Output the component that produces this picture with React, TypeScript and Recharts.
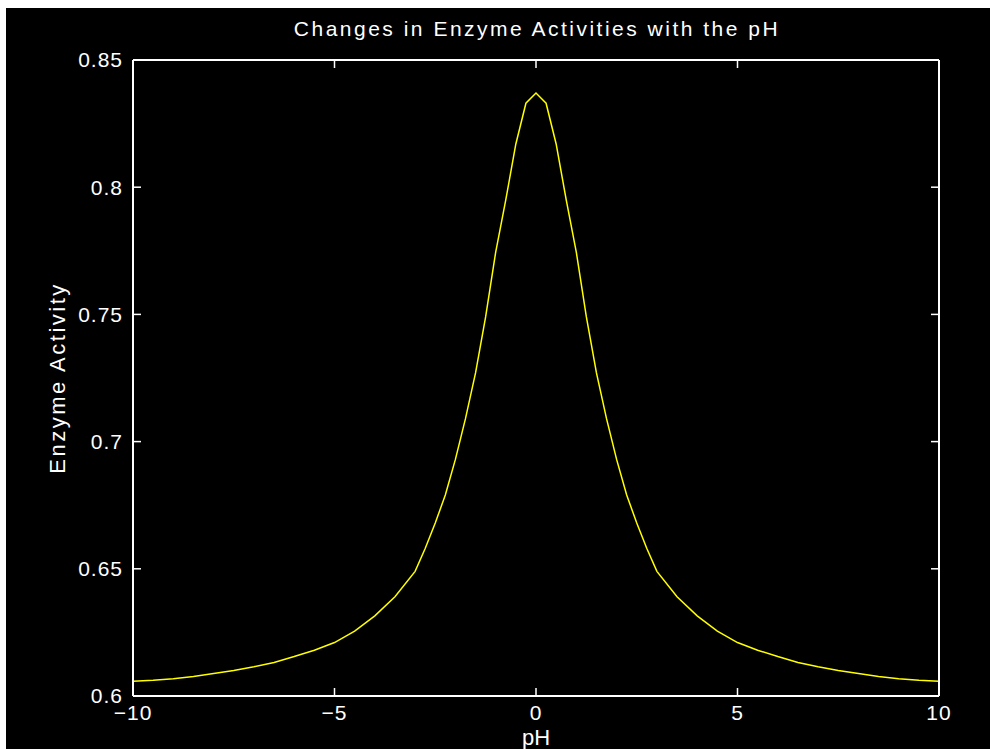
import { LineChart, Line, XAxis, YAxis } from "recharts";

// pH sample points and enzyme activity
const phValues = [
  -10, -9.5, -9, -8.5, -8, -7.5, -7, -6.5, -6, -5.5, -5, -4.5, -4, -3.5, -3,
  -2.75, -2.5, -2.25, -2, -1.75, -1.5, -1.25, -1, -0.75, -0.5, -0.25, 0, 0.25,
  0.5, 0.75, 1, 1.25, 1.5, 1.75, 2, 2.25, 2.5, 2.75, 3, 3.5, 4, 4.5, 5, 5.5, 6,
  6.5, 7, 7.5, 8, 8.5, 9, 9.5, 10,
];
const activityValues = [
  0.6058, 0.6062, 0.6068, 0.6077, 0.6088, 0.61, 0.6115, 0.6132, 0.6155, 0.618,
  0.621, 0.6255, 0.6315, 0.639, 0.649, 0.658, 0.668, 0.679, 0.693, 0.709, 0.727,
  0.749, 0.7745, 0.795, 0.817, 0.833, 0.837, 0.833, 0.817, 0.795, 0.7745,
  0.749, 0.727, 0.709, 0.693, 0.679, 0.668, 0.658, 0.649, 0.639, 0.6315, 0.6255,
  0.621, 0.618, 0.6155, 0.6132, 0.6115, 0.61, 0.6088, 0.6077, 0.6068, 0.6062,
  0.6058,
];
const xTicks = [-10, -5, 0, 5, 10];
const yTicks = [0.6, 0.65, 0.7, 0.75, 0.8, 0.85];

const data = phValues.map((ph, i) => ({ ph, activity: activityValues[i] }));

const FONT = '"Liberation Sans", Arial, sans-serif';
const tickStyle = { fill: "#fff", fontSize: 21, letterSpacing: 1 };
const noLabel = () => <g />;
const boxLine = { stroke: "#fff", strokeWidth: 2 };
const tickLine = { stroke: "#fff", strokeWidth: 1.5 };

export default function App() {
  return (
    <div
      style={{
        position: "absolute",
        left: 0,
        top: 0,
        width: 997,
        height: 749,
        background: "#fff",
        overflow: "hidden",
        fontFamily: FONT,
      }}
    >
      <div
        style={{
          position: "absolute",
          left: 6,
          top: 8,
          width: 984,
          height: 741,
          background: "#000",
        }}
      >
        {/* Title */}
        <div
          style={{
            position: "absolute",
            left: 0,
            width: 1062,
            top: 9,
            textAlign: "center",
            color: "#fff",
            fontSize: 21,
            letterSpacing: 2.5,
            lineHeight: "24px",
            whiteSpace: "nowrap",
          }}
        >
          Changes in Enzyme Activities with the pH
        </div>

        <LineChart
          width={984}
          height={741}
          data={data}
          margin={{ top: 42, right: 41, bottom: 0, left: 0 }}
          style={{ position: "absolute", left: 0, top: 0, fontFamily: FONT }}
        >
          <XAxis
            xAxisId="bottom"
            dataKey="ph"
            type="number"
            domain={[-10, 10]}
            ticks={xTicks}
            height={53}
            tickSize={-8}
            tickMargin={17}
            tick={tickStyle}
            tickFormatter={(v: number) => String(v).replace("-", "\u2212")}
            axisLine={boxLine}
            tickLine={tickLine}
            label={{
              value: "pH",
              position: "insideBottom",
              offset: 4,
              fill: "#fff",
              fontSize: 22,
            }}
          />
          <XAxis
            xAxisId="top"
            orientation="top"
            dataKey="ph"
            type="number"
            domain={[-10, 10]}
            ticks={xTicks}
            height={10}
            tickSize={-8}
            tick={noLabel}
            axisLine={boxLine}
            tickLine={tickLine}
          />
          <YAxis
            yAxisId="left"
            type="number"
            domain={[0.6, 0.85]}
            ticks={yTicks}
            width={127}
            tickSize={-8}
            tickMargin={18}
            tick={tickStyle}
            axisLine={boxLine}
            tickLine={tickLine}
            label={{
              value: "Enzyme Activity",
              angle: -90,
              position: "insideLeft",
              offset: 51,
              fill: "#fff",
              fontSize: 22,
              letterSpacing: 2.5,
              style: { textAnchor: "middle" },
            }}
          />
          <YAxis
            yAxisId="right"
            orientation="right"
            type="number"
            domain={[0.6, 0.85]}
            ticks={yTicks}
            width={10}
            tickSize={-8}
            tick={noLabel}
            axisLine={boxLine}
            tickLine={tickLine}
          />
          {/* invisible copy that ties the top and right box axes to the data */}
          <Line
            xAxisId="top"
            yAxisId="right"
            type="linear"
            dataKey="activity"
            stroke="none"
            dot={false}
            activeDot={false}
            isAnimationActive={false}
          />
          <Line
            xAxisId="bottom"
            yAxisId="left"
            type="linear"
            dataKey="activity"
            stroke="#ffff00"
            strokeWidth={1.5}
            dot={false}
            isAnimationActive={false}
          />
        </LineChart>
      </div>
    </div>
  );
}
